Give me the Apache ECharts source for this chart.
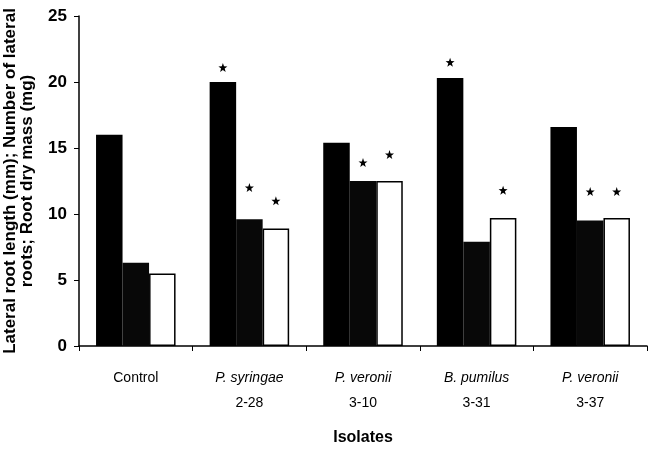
<!DOCTYPE html>
<html>
<head>
<meta charset="utf-8">
<script src="https://cdn.jsdelivr.net/npm/echarts@6/dist/echarts.min.js"></script>
<style>html,body{margin:0;padding:0;background:#fff}#c{width:658px;height:451px}</style>
</head>
<body>
<div id="c"></div>
<script>
var categories = ['Control', 'P. syringae\n2-28', 'P. veronii\n3-10', 'B. pumilus\n3-31', 'P. veronii\n3-37'];
var rootLength = [16.0, 20.0, 15.4, 20.3, 16.6];
var lateralRoots = [6.3, 9.6, 12.5, 7.9, 9.5];
var rootMass = [5.5, 8.9, 12.5, 9.7, 9.7];
// heights at which significance asterisks are drawn (null = none)
var starLength = [null, 21.1, null, 21.5, null];
var starLateral = [null, 12.0, 13.9, null, 11.7];
var starMass = [null, 11.0, 14.5, 11.8, 11.7];
var yTicks = [0, 5, 10, 15, 20, 25];

var starPath = 'path://M0,-10L2.35,-3.24L9.51,-3.09L3.8,1.24L5.88,8.09L0,4L-5.88,8.09L-3.8,1.24L-9.51,-3.09L-2.35,-3.24Z';

function stars(arr) {
  var d = [];
  arr.forEach(function (v, i) { if (v != null) d.push({ coord: [i, v] }); });
  return {
    symbol: starPath, symbolSize: 9, silent: true, animation: false,
    itemStyle: { color: '#000' }, label: { show: false }, data: d
  };
}

var chart = echarts.init(document.getElementById('c'), null, { renderer: 'canvas' });
chart.setOption({
  animation: false,
  backgroundColor: '#fff',
  grid: { left: 79, right: 11, top: 16, bottom: 105, containLabel: false, outerBoundsMode: 'none' },
  xAxis: {
    type: 'category',
    data: categories,
    name: 'Isolates',
    nameLocation: 'middle',
    nameGap: 84,
    nameTextStyle: { fontFamily: 'Liberation Sans, Arial', fontWeight: 'bold', fontSize: 16, color: '#000' },
    axisLine: { lineStyle: { color: '#000', width: 1.5 } },
    axisTick: { show: true, length: 5, lineStyle: { color: '#000' } },
    axisLabel: {
      margin: 20,
      interval: 0,
      color: '#000',
      formatter: function (v) {
        var p = v.split('\n');
        if (p.length === 1) return '{n|' + p[0] + '}';
        return '{i|' + p[0] + '}\n{n|' + p[1] + '}';
      },
      rich: {
        i: { fontFamily: 'Liberation Sans, Arial', fontStyle: 'italic', fontSize: 14, lineHeight: 25, color: '#000' },
        n: { fontFamily: 'Liberation Sans, Arial', fontSize: 14, lineHeight: 25, color: '#000' }
      }
    }
  },
  yAxis: {
    type: 'value',
    min: yTicks[0],
    max: yTicks[yTicks.length - 1],
    interval: 5,
    name: 'Lateral root length (mm); Number of lateral\nroots; Root dry mass (mg)',
    nameLocation: 'middle',
    nameGap: 43,
    nameTextStyle: { fontFamily: 'Liberation Sans, Arial', fontWeight: 'bold', fontSize: 17, lineHeight: 17, color: '#000' },
    splitLine: { show: false },
    axisLine: { show: true, lineStyle: { color: '#000', width: 1.5 } },
    axisTick: { show: true, length: 5, lineStyle: { color: '#000' } },
    axisLabel: { margin: 12, color: '#000', fontFamily: 'Liberation Sans, Arial', fontWeight: 'bold', fontSize: 17 }
  },
  series: [
    {
      type: 'bar', name: 'Root length', data: rootLength, barGap: '0%', barCategoryGap: '30%',
      itemStyle: { color: '#000' }, markPoint: stars(starLength)
    },
    {
      type: 'bar', name: 'Lateral roots', data: lateralRoots, barGap: '0%', barCategoryGap: '30%',
      itemStyle: { color: '#080808' }, markPoint: stars(starLateral)
    },
    {
      type: 'bar', name: 'Root dry mass', data: rootMass, barGap: '0%', barCategoryGap: '30%',
      itemStyle: { color: '#fff', borderColor: '#000', borderWidth: 1.5 }, markPoint: stars(starMass)
    }
  ]
});
</script>
</body>
</html>
